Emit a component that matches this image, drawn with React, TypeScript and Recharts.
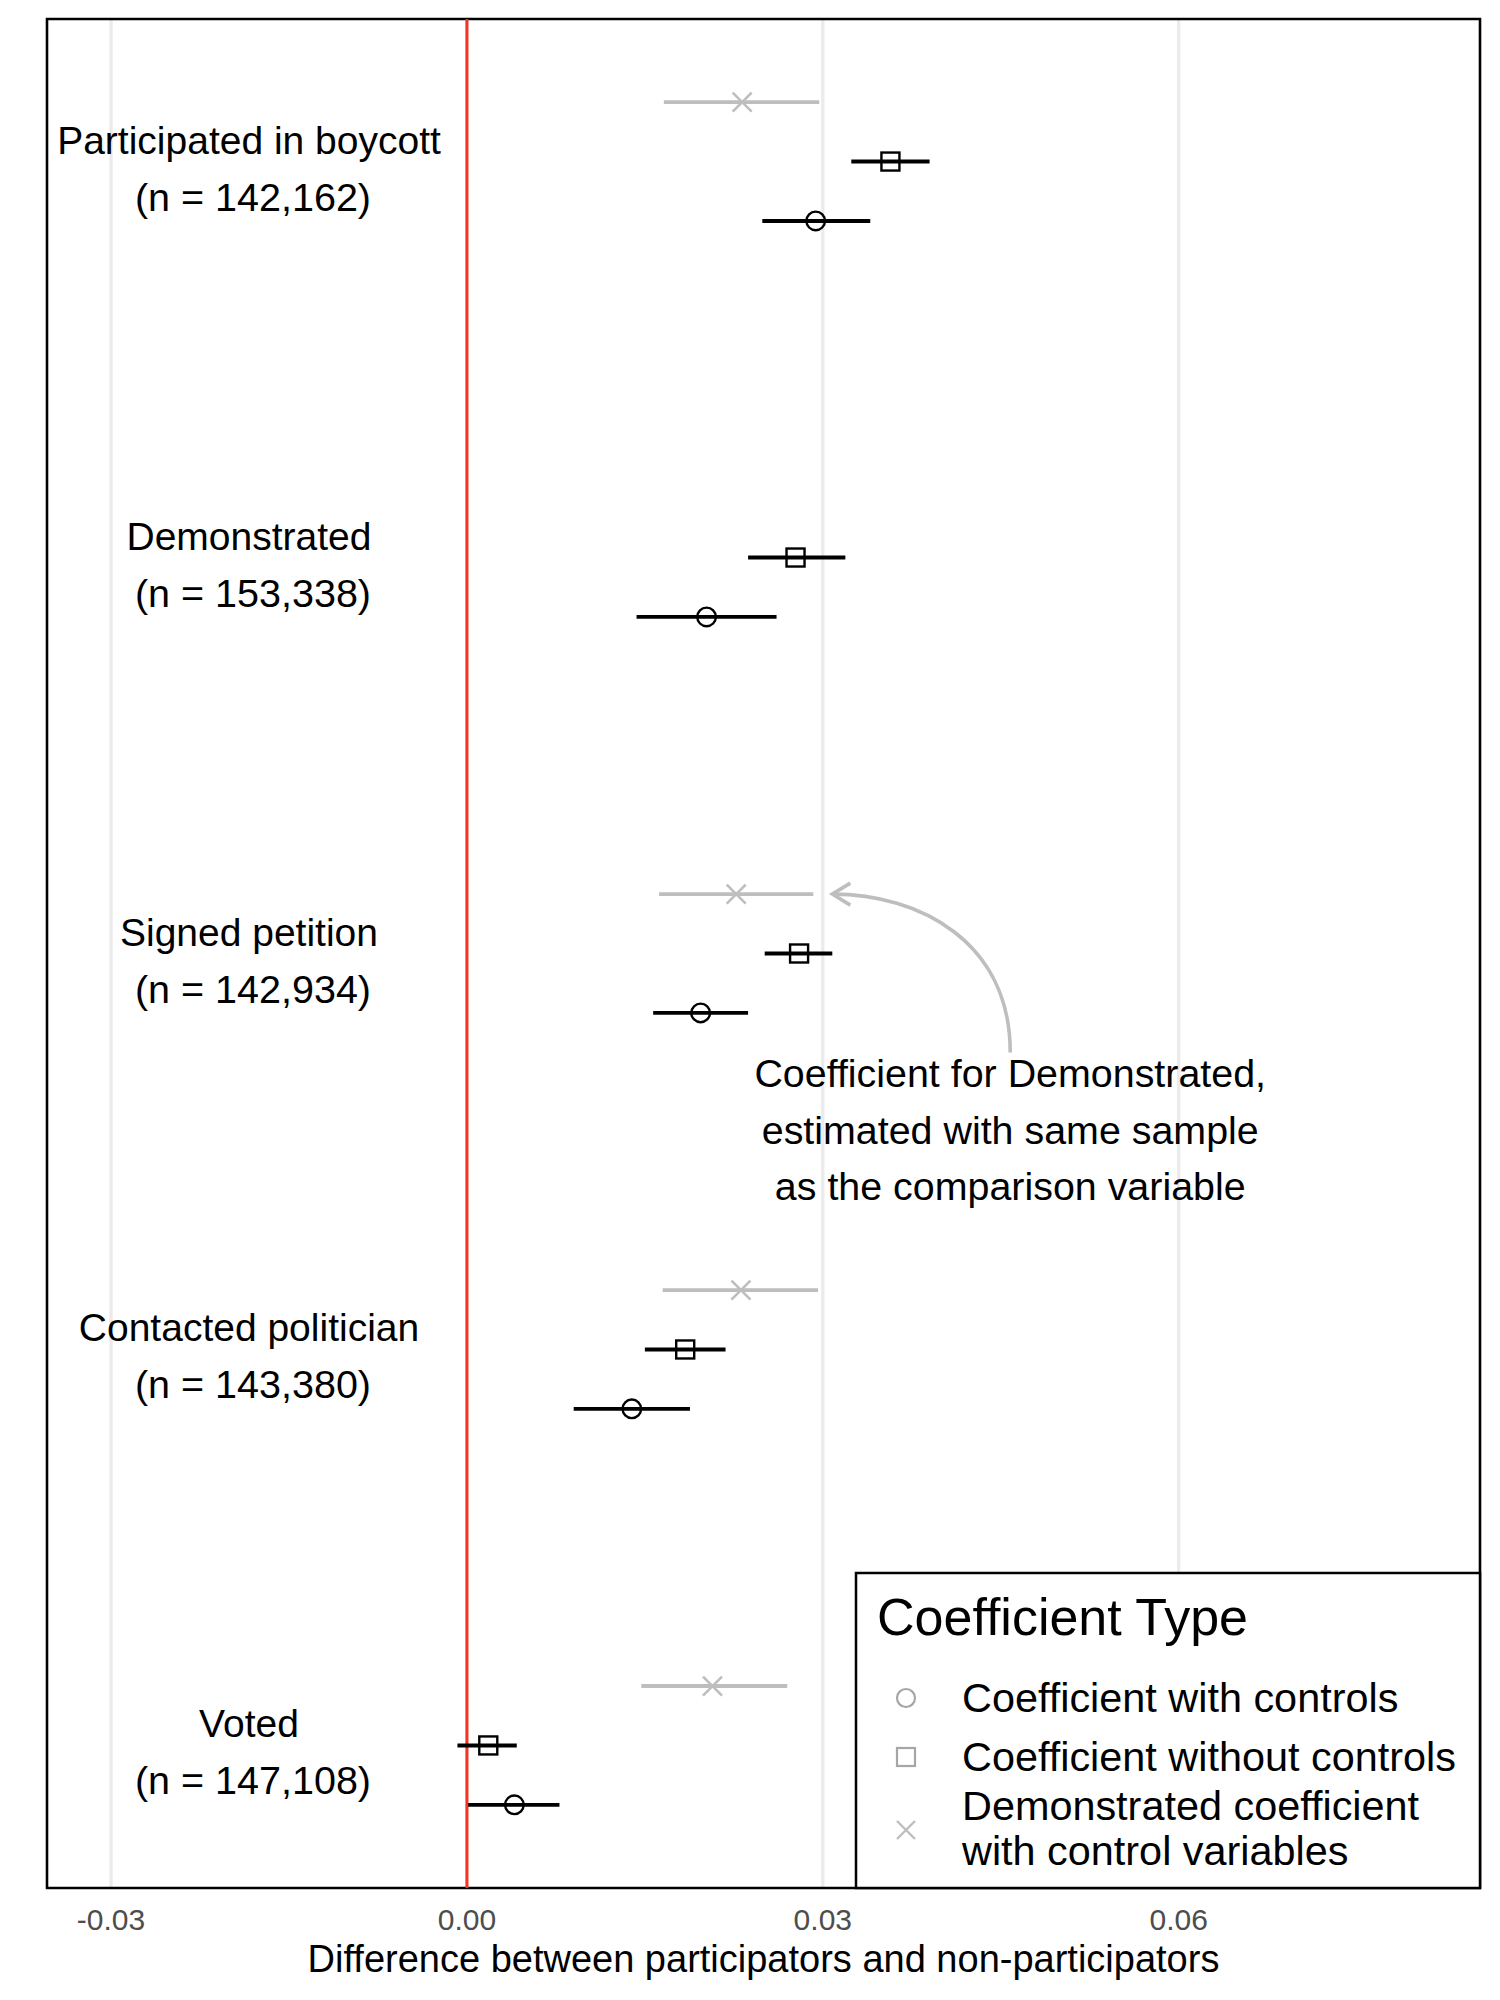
import React from "react";
import {
  ComposedChart,
  Scatter,
  ErrorBar,
  XAxis,
  YAxis,
  CartesianGrid,
  ReferenceLine,
  ReferenceArea,
  Legend,
} from "recharts";

// categories, top to bottom
const CATEGORIES = [
  "Participated in boycott",
  "Demonstrated",
  "Signed petition",
  "Contacted politician",
  "Voted",
];
const SAMPLE_N = ["142,162", "153,338", "142,934", "143,380", "147,108"];
const CATEGORY_POS = [5, 4, 3, 2, 1];

// coefficient with controls (circle)
const WITH_EST = [0.0294, 0.0202, 0.0197, 0.0139, 0.004];
const WITH_LO = [0.0249, 0.0143, 0.0157, 0.009, 0.0001];
const WITH_HI = [0.034, 0.0261, 0.0237, 0.0188, 0.0078];

// coefficient without controls (square)
const WITHOUT_EST = [0.0357, 0.0277, 0.028, 0.0184, 0.0018];
const WITHOUT_LO = [0.0324, 0.0237, 0.0251, 0.015, -0.0008];
const WITHOUT_HI = [0.039, 0.0319, 0.0308, 0.0218, 0.0042];

// demonstrated coefficient with controls, same sample (cross)
const DEMO_EST = [0.0232, null, 0.0227, 0.0231, 0.0207];
const DEMO_LO = [0.0166, null, 0.0162, 0.0165, 0.0147];
const DEMO_HI = [0.0297, null, 0.0292, 0.0296, 0.027];

const X_TICKS = [-0.03, 0, 0.03, 0.06];
const X_DOMAIN: [number, number] = [-0.0354, 0.0854];
const Y_DOMAIN: [number, number] = [0.64, 5.36];
const DODGE = 0.15;

const LEGEND_TITLE = "Coefficient Type";
const LEGEND_LABELS = [
  ["Coefficient with controls"],
  ["Coefficient without controls"],
  ["Demonstrated coefficient", "with control variables"],
];

const NOTE_LINES = [
  "Coefficient for Demonstrated,",
  "estimated with same sample",
  "as the comparison variable",
];
const ARROW_FROM = { x: 0.0458, y: 2.75 };
const ARROW_TO = { x: 0.0308, y: 3.15 };

const FONT = '"Liberation Sans", Arial, Helvetica, sans-serif';
const GREY = "#bebebe";

type Row = { x: number; y: number; err: [number, number] };

function buildRows(
  est: (number | null)[],
  lo: (number | null)[],
  hi: (number | null)[],
  shift: number
): Row[] {
  const rows: Row[] = [];
  est.forEach((v, i) => {
    if (v == null) return;
    rows.push({
      x: v,
      y: CATEGORY_POS[i] + shift,
      err: [v - (lo[i] as number), (hi[i] as number) - v],
    });
  });
  return rows;
}

const withRows = buildRows(WITH_EST, WITH_LO, WITH_HI, -DODGE);
const withoutRows = buildRows(WITHOUT_EST, WITHOUT_LO, WITHOUT_HI, 0);
const demoRows = buildRows(DEMO_EST, DEMO_LO, DEMO_HI, DODGE);

const CircleMark = (p: any) => (
  <circle cx={p.cx} cy={p.cy} r={9.3} fill="none" stroke="#000" strokeWidth={2.4} />
);
const SquareMark = (p: any) => (
  <rect
    x={p.cx - 9}
    y={p.cy - 9}
    width={18}
    height={18}
    fill="none"
    stroke="#000"
    strokeWidth={2.4}
  />
);
const CrossMark = (p: any) => (
  <path
    d={`M${p.cx - 9.5},${p.cy - 9.5}L${p.cx + 9.5},${p.cy + 9.5}M${p.cx - 9.5},${p.cy + 9.5}L${p.cx + 9.5},${p.cy - 9.5}`}
    stroke={GREY}
    strokeWidth={2.6}
    fill="none"
  />
);

const CategoryTick = (p: any) => {
  const i = CATEGORY_POS.indexOf(p.payload.value);
  if (i < 0) return null;
  const cx = p.x + 202;
  return (
    <g>
      <text x={cx} y={p.y - 8} textAnchor="middle" fontSize={39} fill="#000">
        {CATEGORIES[i]}
      </text>
      <text x={cx + 4} y={p.y + 49} textAnchor="middle" fontSize={39.5} fill="#000">
        {`(n = ${SAMPLE_N[i]})`}
      </text>
    </g>
  );
};

const NoteArrow = (p: any) => {
  const { x1, y1, x2, y2 } = p;
  const dx = x2 - x1;
  const dy = y2 - y1;
  const d = `M${x1},${y1} C${x1},${y1 + 0.7 * dy} ${x1 + 0.51 * dx},${y2} ${x2},${y2}`;
  return (
    <g>
      <path d={d} fill="none" stroke={GREY} strokeWidth={3.6} />
      <path
        d={`M${x2 + 18},${y2 - 11}L${x2},${y2}L${x2 + 18},${y2 + 11}`}
        fill="none"
        stroke={GREY}
        strokeWidth={3.6}
      />
      {NOTE_LINES.map((t, i) => (
        <text key={i} x={x1} y={y1 + 35 + i * 56.5} textAnchor="middle" fontSize={39.4} fill="#000">
          {t}
        </text>
      ))}
    </g>
  );
};

const LegendBox = () => {
  const marks = [
    (cx: number, cy: number) => (
      <circle cx={cx} cy={cy} r={9} fill="none" stroke="#a6a6a6" strokeWidth={2.2} />
    ),
    (cx: number, cy: number) => (
      <rect x={cx - 9} y={cy - 9} width={18} height={18} fill="none" stroke="#a6a6a6" strokeWidth={2.2} />
    ),
    (cx: number, cy: number) => (
      <path
        d={`M${cx - 9},${cy - 9}L${cx + 9},${cy + 9}M${cx - 9},${cy + 9}L${cx + 9},${cy - 9}`}
        stroke={GREY}
        strokeWidth={2.4}
      />
    ),
  ];
  const markY = [127, 186, 259];
  const textY = [[141], [200], [249, 294]];
  return (
    <svg width={628} height={319} style={{ display: "block", fontFamily: FONT }}>
      <rect x={2} y={2} width={624} height={315} fill="#fff" stroke="#000" strokeWidth={2.5} />
      <text x={23} y={64} fontSize={52} fill="#000">
        {LEGEND_TITLE}
      </text>
      {LEGEND_LABELS.map((lines, i) => (
        <g key={i}>
          {marks[i](52, markY[i])}
          {lines.map((t, j) => (
            <text key={j} x={108} y={textY[i][j]} fontSize={41.4} fill="#000">
              {t}
            </text>
          ))}
        </g>
      ))}
    </svg>
  );
};

export default function App() {
  return (
    <div
      style={{
        position: "absolute",
        left: 0,
        top: 0,
        width: 1500,
        height: 2000,
        background: "#fff",
        fontFamily: FONT,
      }}
    >
      <ComposedChart
        width={1500}
        height={2000}
        margin={{ top: 19, right: 20, bottom: 22, left: 46 }}
      >
        <CartesianGrid horizontal={false} stroke="#ebebeb" strokeWidth={3.3} />
        <XAxis
          type="number"
          dataKey="x"
          domain={X_DOMAIN}
          ticks={X_TICKS}
          allowDataOverflow
          height={90}
          axisLine={false}
          tickLine={false}
          tickSize={0}
          tickMargin={21}
          tick={{ fill: "#4d4d4d", fontSize: 30 }}
          tickFormatter={(v) => Number(v).toFixed(2)}
          label={{
            value: "Difference between participators and non-participators",
            position: "insideBottom",
            offset: 6,
            fill: "#000",
            fontSize: 38,
          }}
        />
        <YAxis
          type="number"
          dataKey="y"
          domain={Y_DOMAIN}
          ticks={CATEGORY_POS}
          interval={0}
          allowDataOverflow
          width={1}
          axisLine={false}
          tickLine={false}
          tickSize={0}
          tickMargin={0}
          tick={<CategoryTick />}
        />
        <ReferenceLine x={0} stroke="#f5331f" strokeWidth={3} />
        <Scatter
          name="Demonstrated coefficient with control variables"
          data={demoRows}
          shape={<CrossMark />}
          isAnimationActive={false}
        >
          <ErrorBar dataKey="err" direction="x" width={0} stroke={GREY} strokeWidth={3.9} isAnimationActive={false} />
        </Scatter>
        <Scatter
          name="Coefficient without controls"
          data={withoutRows}
          shape={<SquareMark />}
          isAnimationActive={false}
        >
          <ErrorBar dataKey="err" direction="x" width={0} stroke="#000" strokeWidth={3.9} isAnimationActive={false} />
        </Scatter>
        <Scatter
          name="Coefficient with controls"
          data={withRows}
          shape={<CircleMark />}
          isAnimationActive={false}
        >
          <ErrorBar dataKey="err" direction="x" width={0} stroke="#000" strokeWidth={3.9} isAnimationActive={false} />
        </Scatter>
        <ReferenceLine segment={[ARROW_FROM, ARROW_TO]} shape={<NoteArrow />} />
        <ReferenceArea
          x1={X_DOMAIN[0]}
          x2={X_DOMAIN[1]}
          y1={Y_DOMAIN[0]}
          y2={Y_DOMAIN[1]}
          fill="none"
          stroke="#000"
          strokeWidth={2.5}
          ifOverflow="visible"
        />
        <Legend
          layout="vertical"
          align="center"
          verticalAlign="middle"
          wrapperStyle={{ left: 854, top: 1571, width: 628, height: 319 }}
          content={() => <LegendBox />}
        />
      </ComposedChart>
    </div>
  );
}
